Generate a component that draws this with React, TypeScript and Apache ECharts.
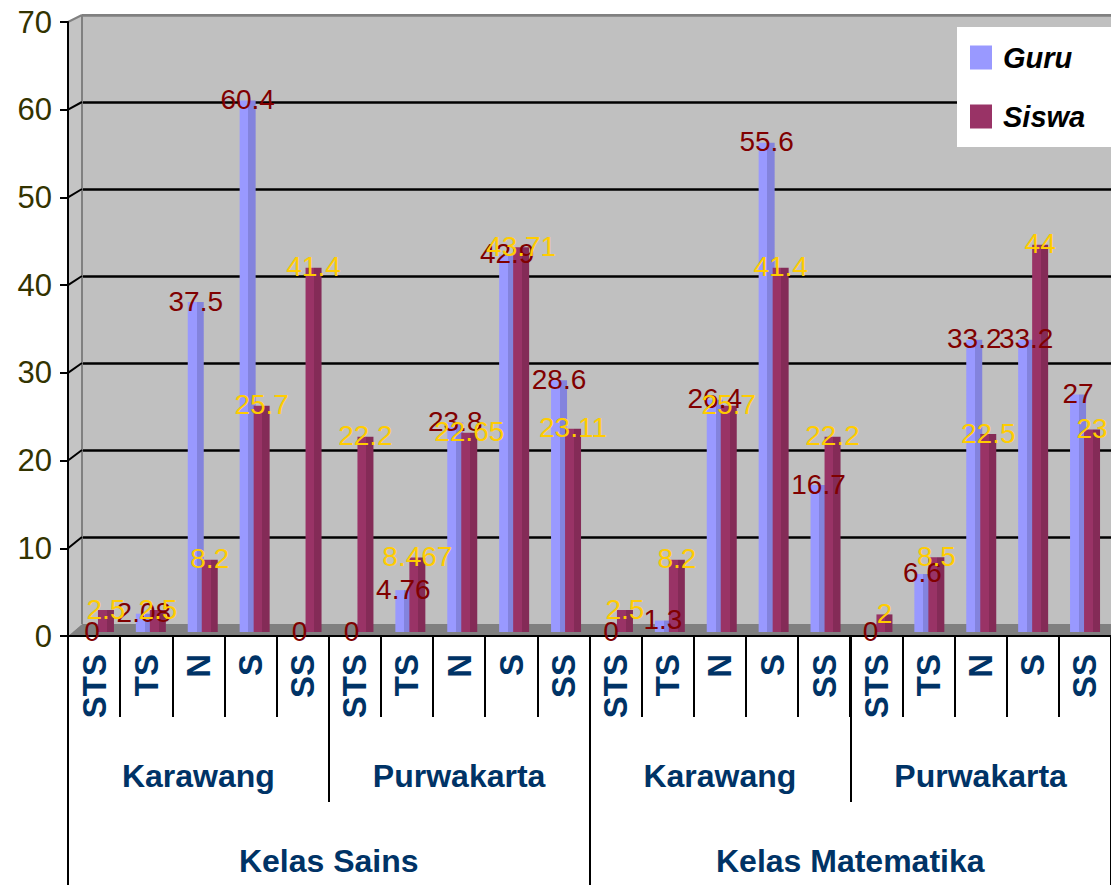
import React, { useEffect, useRef } from 'react';
import * as echarts from 'echarts';

// ---- data ----
const answerLabels = [
  'STS', 'TS', 'N', 'S', 'SS',
  'STS', 'TS', 'N', 'S', 'SS',
  'STS', 'TS', 'N', 'S', 'SS',
  'STS', 'TS', 'N', 'S', 'SS',
];
const regionLabels = ['Karawang', 'Purwakarta', 'Karawang', 'Purwakarta'];
const classLabels = ['Kelas Sains', 'Kelas Matematika'];
const seriesNames = ['Guru', 'Siswa'];
const guruValues = [0, 2.08, 37.5, 60.4, 0, 0, 4.76, 23.8, 42.9, 28.6, 0, 1.3, 26.4, 55.6, 16.7, 0, 6.6, 33.2, 33.2, 27];
const siswaValues = [2.5, 2.5, 8.2, 25.7, 41.4, 22.2, 8.467, 22.65, 43.71, 23.11, 2.5, 8.2, 25.7, 41.4, 22.2, 2, 8.5, 22.5, 44, 23];
const yTickValues = [0, 10, 20, 30, 40, 50, 60, 70];

const FONT = '"Liberation Sans", Arial, Helvetica, sans-serif';

// ---- layout ----
const W = 1111;
const H = 885;
const FRONT = { left: 68, top: 22, height: 614 };
const BACK = { left: 82, top: 15, height: 609 };
const BARS = { left: 73, top: 16, height: 616 };
const CAT_W = W - FRONT.left;

export default function App() {
  const ref = useRef<HTMLDivElement>(null);

  useEffect(() => {
    if (!ref.current) return;
    const chart = echarts.init(ref.current, null, { renderer: 'svg' });

    const yMax = yTickValues[yTickValues.length - 1];
    const frontBottom = FRONT.top + FRONT.height;
    const backBottom = BACK.top + BACK.height;
    const fy = (v: number) => frontBottom - (v / yMax) * FRONT.height;
    const by = (v: number) => backBottom - (v / yMax) * BACK.height;

    const diagonals = yTickValues.slice(1, -1).map((v) => ({
      type: 'line',
      z: 1,
      shape: { x1: FRONT.left, y1: fy(v), x2: BACK.left, y2: by(v) },
      style: { stroke: '#000', lineWidth: 2 },
    }));

    const grad = (a: string, b: string) => ({
      type: 'linear', x: 0, y: 0, x2: 1, y2: 0,
      colorStops: [
        { offset: 0, color: a }, { offset: 0.55, color: a },
        { offset: 0.55, color: b }, { offset: 1, color: b },
      ],
    });

    const labelBase = {
      show: true,
      position: 'top',
      distance: 0,
      offset: [0, 13],
      fontSize: 28,
      fontFamily: FONT,
    };

    chart.setOption({
      animation: false,
      backgroundColor: '#fff',
      grid: [
        { left: FRONT.left, top: FRONT.top, width: CAT_W, height: FRONT.height },
        { left: BACK.left, top: BACK.top, width: W - BACK.left, height: BACK.height, show: true, backgroundColor: '#C0C0C0', borderWidth: 0 },
        { left: BARS.left, top: BARS.top, width: CAT_W, height: BARS.height },
      ],
      legend: {
        orient: 'vertical',
        left: 957,
        top: 27,
        padding: [16, 26, 16, 13],
        itemGap: 30,
        itemWidth: 22,
        itemHeight: 24,
        backgroundColor: '#fff',
        icon: 'rect',
        textStyle: { fontSize: 29, fontWeight: 'bold', fontStyle: 'italic', color: '#000', fontFamily: FONT, padding: [0, 0, 0, 6] },
        data: [
          { name: seriesNames[0], itemStyle: { color: '#9999FF' } },
          { name: seriesNames[1], itemStyle: { color: '#993366' } },
        ],
      },
      xAxis: [
        {
          gridIndex: 0, type: 'category', data: answerLabels, position: 'bottom', z: 3,
          axisLine: { show: true, onZero: false, lineStyle: { color: '#000', width: 2 } },
          axisTick: { show: true, interval: 0, length: 81, lineStyle: { color: '#000', width: 2 } },
          axisLabel: { interval: 0, rotate: 90, margin: 18, fontSize: 33, fontWeight: 'bold', color: '#003366', fontFamily: FONT },
        },
        {
          gridIndex: 0, type: 'category', data: regionLabels, position: 'bottom', z: 3,
          axisLine: { show: false, onZero: false },
          axisTick: { show: true, interval: 0, length: 166, lineStyle: { color: '#000', width: 2 } },
          axisLabel: { interval: 0, margin: 124, fontSize: 32, fontWeight: 'bold', color: '#003366', fontFamily: FONT },
        },
        {
          gridIndex: 0, type: 'category', data: classLabels, position: 'bottom', z: 3,
          axisLine: { show: false, onZero: false },
          axisTick: { show: true, interval: 0, length: 250, lineStyle: { color: '#000', width: 2 } },
          axisLabel: { interval: 0, margin: 209, fontSize: 32, fontWeight: 'bold', color: '#003366', fontFamily: FONT },
        },
        { gridIndex: 1, type: 'category', data: answerLabels, show: false },
        { gridIndex: 2, type: 'category', data: answerLabels, show: false },
      ],
      yAxis: [
        {
          gridIndex: 0, type: 'value', min: 0, max: yMax, interval: 10, z: 3,
          axisLine: { show: true, lineStyle: { color: '#000', width: 2 } },
          axisTick: { show: true, inside: false, length: 8, lineStyle: { color: '#000', width: 2 } },
          axisLabel: { margin: 16, fontSize: 31, color: '#333300', fontFamily: FONT },
          splitLine: { show: false },
        },
        {
          gridIndex: 1, type: 'value', min: 0, max: yMax, interval: 10,
          axisLine: { show: false }, axisTick: { show: false }, axisLabel: { show: false },
          splitLine: {
            show: true,
            lineStyle: {
              color: ['rgba(0,0,0,0)', '#000', '#000', '#000', '#000', '#000', '#000', '#808080'],
              width: 2.5,
            },
          },
        },
        { gridIndex: 2, type: 'value', min: 0, max: yMax, interval: 10, show: false, splitLine: { show: false } },
      ],
      graphic: [
        {
          type: 'polygon', z: 1,
          shape: { points: [[FRONT.left, FRONT.top], [BACK.left, BACK.top], [BACK.left, backBottom], [FRONT.left, frontBottom]] },
          style: { fill: '#C4C4C4' },
        },
        {
          type: 'polygon', z: 1,
          shape: { points: [[FRONT.left, frontBottom], [BACK.left, backBottom], [W, backBottom], [W, frontBottom]] },
          style: { fill: '#808080' },
        },
        { type: 'line', z: 1, shape: { x1: FRONT.left, y1: FRONT.top, x2: BACK.left, y2: BACK.top }, style: { stroke: '#808080', lineWidth: 2 } },
        { type: 'line', z: 1, shape: { x1: BACK.left, y1: BACK.top, x2: W, y2: BACK.top }, style: { stroke: '#808080', lineWidth: 2 } },
        { type: 'line', z: 1, shape: { x1: BACK.left, y1: BACK.top, x2: BACK.left, y2: backBottom }, style: { stroke: '#808080', lineWidth: 2 } },
        ...diagonals,
      ],
      series: [
        {
          name: seriesNames[0], type: 'bar', xAxisIndex: 4, yAxisIndex: 2, z: 5,
          data: guruValues, barWidth: 16, barGap: '-12.5%',
          itemStyle: { color: grad('#9999FF', '#8383DD') },
          label: { ...labelBase, color: '#800000' },
        },
        {
          name: seriesNames[1], type: 'bar', xAxisIndex: 4, yAxisIndex: 2, z: 5,
          data: siswaValues, barWidth: 16, barGap: '-12.5%',
          itemStyle: { color: grad('#993366', '#842B57') },
          label: { ...labelBase, color: '#FFCC00' },
        },
      ],
    });

    return () => chart.dispose();
  }, []);

  return (
    <div
      ref={ref}
      style={{ position: 'absolute', left: 0, top: 0, width: W, height: H }}
    />
  );
}
